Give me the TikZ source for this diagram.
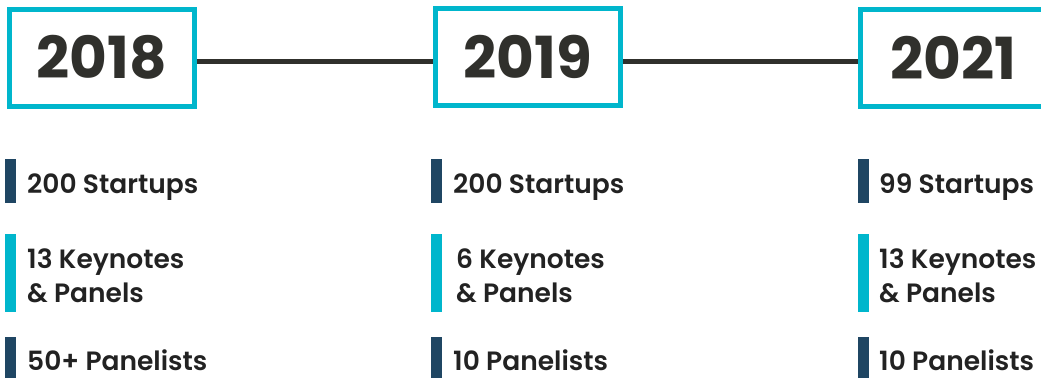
\documentclass[tikz,border=0pt]{standalone}
\usepackage{fontspec}
\setmainfont{Poppins}
\newfontfamily\itemfont{Poppins SemiBold}
\usepackage{tikz}

\definecolor{boxcyan}{HTML}{00B6CC}
\definecolor{bardark}{HTML}{1F4663}
\definecolor{yeargray}{HTML}{30302C}
\definecolor{itemgray}{HTML}{222222}

\tikzset{
  yearbox/.style={draw=boxcyan,line width=5pt,fill=white,minimum width=185pt,
    minimum height=97pt,inner sep=0pt,text=yeargray,
    font=\fontsize{58}{58}\selectfont\bfseries},
  itemtext/.style={anchor=base west,inner sep=0pt,align=left,text=itemgray,
    font=\itemfont\fontsize{26.5}{34}\selectfont},
  link/.style={line width=5pt,yeargray},
}

\begin{document}
\begin{tikzpicture}[x=1pt,y=-1pt]
\useasboundingbox(0,0)rectangle(1041,378);
\node[yearbox](y2018)at(102,57.5){2018};
\node[yearbox](y2019)at(528,56.5){2019};
\node[yearbox](y2021)at(953,57.5){2021};
\draw[link]([yshift=-3.5pt]y2018.east)--([yshift=-4.5pt]y2019.west);
\draw[link]([yshift=-4.5pt]y2019.east)--([yshift=-3.5pt]y2021.west);
% 2018
\fill[bardark](5,159)rectangle(16,203);
\fill[boxcyan](5,234)rectangle(16,312);
\fill[bardark](5,337)rectangle(16,378);
\node[itemtext](a1)at(27,193){200 Startups};
\node[itemtext](a2)at(27,302){13 Keynotes\\\& Panels};
\node[itemtext](a3)at(27,370){50+ Panelists};
% 2019
\fill[bardark](431,159)rectangle(442,203);
\fill[boxcyan](431,234)rectangle(442,312);
\fill[bardark](431,337)rectangle(442,378);
\node[itemtext](b1)at(453,193){200 Startups};
\node[itemtext](b2)at(456,302){6 Keynotes\\\& Panels};
\node[itemtext](b3)at(453,370){10 Panelists};
% 2021
\fill[bardark](858,159)rectangle(869,203);
\fill[boxcyan](858,234)rectangle(869,312);
\fill[bardark](858,337)rectangle(869,378);
\node[itemtext](c1)at(879,193){99 Startups};
\node[itemtext](c2)at(879,302){13 Keynotes\\\& Panels};
\node[itemtext](c3)at(879,370){10 Panelists};
\end{tikzpicture}
\end{document}
